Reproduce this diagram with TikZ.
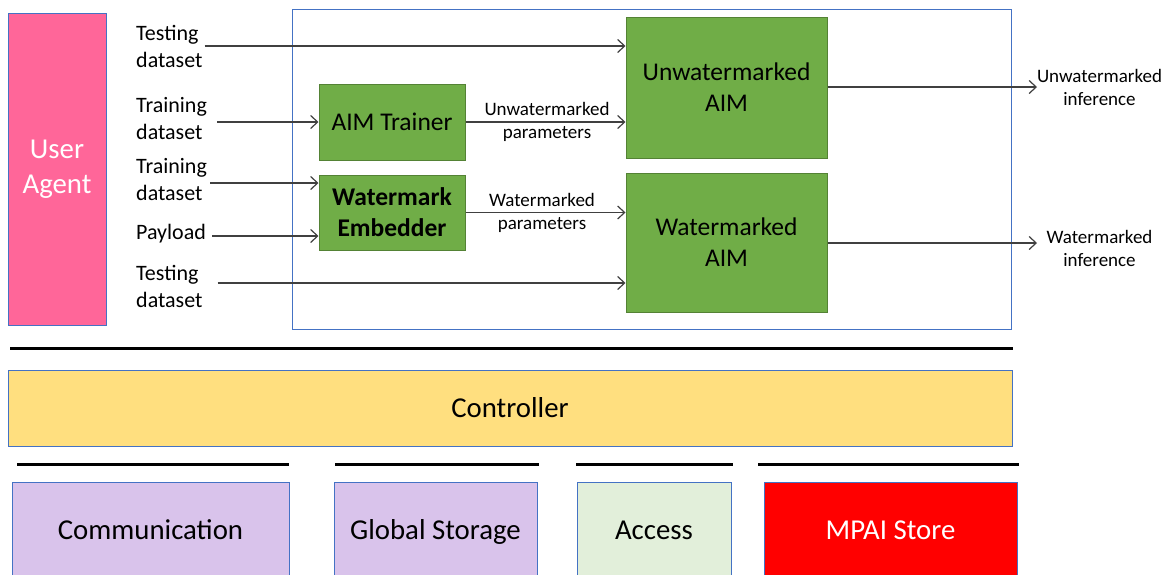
\documentclass[tikz,border=0pt]{standalone}
\usepackage{fontspec}
\setmainfont{Carlito}
\usetikzlibrary{arrows.meta}
\definecolor{uapink}{HTML}{FF6699}
\definecolor{aimgreen}{HTML}{70AD47}
\definecolor{greenedge}{HTML}{548235}
\definecolor{boxblue}{HTML}{4472C4}
\definecolor{ctrlyellow}{HTML}{FFDF7F}
\definecolor{lilac}{HTML}{D9C3EB}
\definecolor{palegreen}{HTML}{E2EFDA}
\definecolor{arrowgray}{HTML}{404040}
\begin{document}
\begin{tikzpicture}[x=1pt,y=-1pt,
 arr/.style={draw=arrowgray, line width=1.2pt, -{Straight Barb[length=7pt,width=13pt,line width=1.2pt]}},
 aimbox/.style={draw=greenedge, fill=aimgreen, line width=1pt, inner sep=0pt, align=center, font=\fontsize{25.5}{31}\selectfont},
 lbl/.style={anchor=west, align=left, inner sep=2pt, font=\fontsize{22}{27}\selectfont},
 small/.style={align=center, inner sep=0pt, font=\fontsize{19}{23}\selectfont},
 bar/.style={line width=3pt, black},
 base/.style={draw=boxblue, line width=0.8pt, inner sep=0pt, align=center, font=\fontsize{28.8}{35}\selectfont},
 oneline/.style={text height=19pt, text depth=0pt}
]
\useasboundingbox (0,0) rectangle (1172,574);

% user agent
\node[base, fill=uapink, text=white, minimum width=98pt, minimum height=312pt] (ua) at (57,169) {User\\Agent};

% frame
\node[draw=boxblue, line width=0.8pt, minimum width=719pt, minimum height=320pt, inner sep=0pt] (frame) at (651.5,169) {};

% AIM boxes
\node[aimbox, minimum width=201pt, minimum height=141pt] (uaim) at (726.5,87.5) {Unwatermarked\\AIM};
\node[aimbox, minimum width=201pt, minimum height=139pt] (waim) at (726.5,242.5) {Watermarked\\AIM};
\node[aimbox, minimum width=146pt, minimum height=76pt] (trainer) at (392,122) {AIM Trainer};
\node[aimbox, minimum width=146pt, minimum height=75pt, font=\fontsize{25.5}{31}\selectfont\bfseries] (embed) at (392,212.5) {Watermark\\Embedder};

% left labels
\node[lbl] (l1) at (134,46) {Testing\\dataset};
\node[lbl] (l2) at (134,119) {Training\\dataset};
\node[lbl] (l3) at (134,180) {Training\\dataset};
\node[lbl] (l4) at (134,234) {Payload};
\node[lbl] (l5) at (134,286) {Testing\\dataset};

\coordinate (s1) at (l1.east);
\coordinate (s2) at ([xshift=8pt]l2.east |- trainer.west);
\coordinate (s3) at ([xshift=1pt,yshift=-3pt]l3.east);
\coordinate (s4) at ([xshift=4pt,yshift=-2pt]l4.east);
\coordinate (s5) at ([xshift=13pt,yshift=3pt]l5.east);

\draw[arr] (s1) -- (s1 -| uaim.west);
\draw[arr] (s2) -- (trainer.west);
\draw[arr] (s3) -- (s3 -| embed.west);
\draw[arr] (s4) -- (s4 -| embed.west);
\draw[arr] (s5) -- (s5 -| waim.west);

% parameters
\draw[arr] (trainer.east) -- (trainer.east -| uaim.west);
\node[small] (up) at (547,122) {Unwatermarked\\parameters};
\draw[arr] (embed.east) -- (embed.east -| waim.west);
\node[small] (wp) at (542,213) {Watermarked\\parameters};

% outputs
\coordinate (o1) at (1037,87);
\coordinate (o2) at (1037,243);
\draw[arr] (uaim.east |- o1) -- (o1);
\draw[arr] (waim.east |- o2) -- (o2);
\node[small] (ui) at (1099.5,87) {Unwatermarked\\inference};
\node[small] (wi) at (1099.5,248) {Watermarked\\inference};

% bars
\draw[bar] (10,348) -- (1013,348);
\draw[bar] (17,464) -- (289,464);
\draw[bar] (335,464) -- (539,464);
\draw[bar] (576,464) -- (733,464);
\draw[bar] (758,464) -- (1019,464);

% controller
\node[base, oneline, fill=ctrlyellow, minimum width=1004pt, minimum height=76pt] (controller) at (510,408) {Controller};

% bottom boxes
\node[base, oneline, fill=lilac, minimum width=277pt, minimum height=96pt] (comm) at (150.5,530) {Communication};
\node[base, oneline, fill=lilac, minimum width=203pt, minimum height=96pt] (gstore) at (435.5,530) {Global Storage};
\node[base, oneline, fill=palegreen, minimum width=154pt, minimum height=96pt] (access) at (654,530) {Access};
\node[base, oneline, fill=red, text=white, minimum width=253pt, minimum height=96pt] (store) at (890.5,530) {MPAI Store};
\end{tikzpicture}
\end{document}
